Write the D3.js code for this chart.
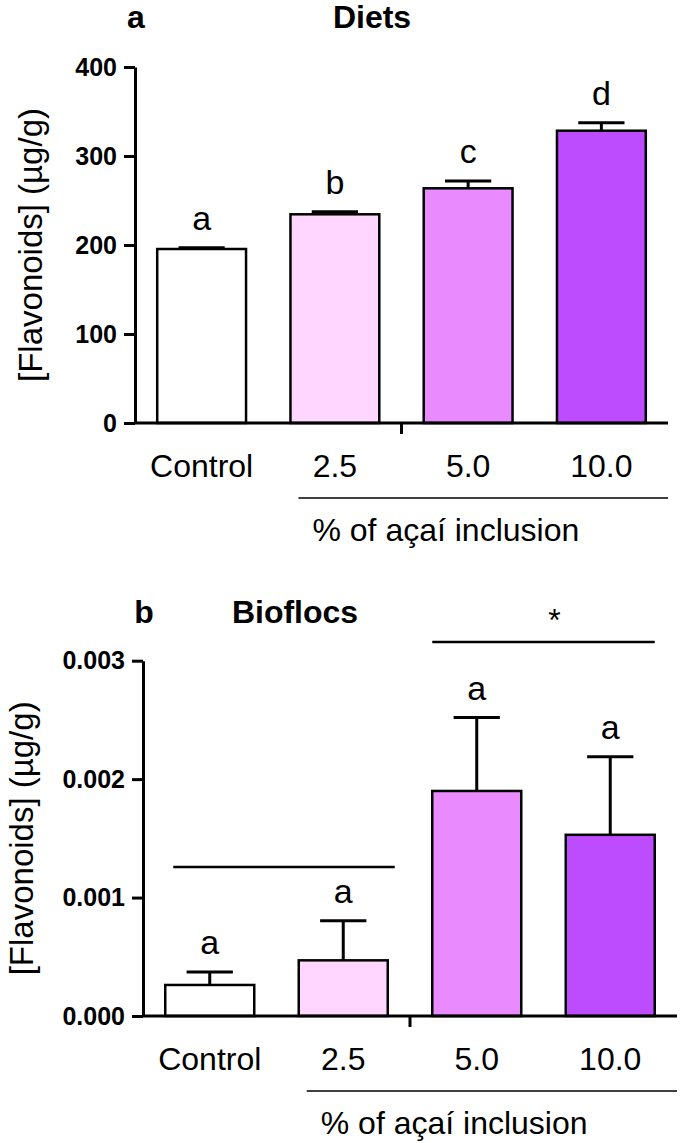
<!DOCTYPE html>
<html>
<head>
<meta charset="utf-8">
<script src="https://cdn.jsdelivr.net/npm/d3@7"></script>
<style>
  body { margin: 0; background: #fff; }
  text { font-family: "Liberation Sans", Arial, sans-serif; fill: #000; }
  .tick-lbl { font-weight: bold; font-size: 25px; }
  .title { font-weight: bold; font-size: 32px; }
</style>
</head>
<body>
<div id="vis"></div>
<script>
// data
const groups = ["Control", "2.5", "5.0", "10.0"];
const bar_colors = ["#ffffff", "#ffd6ff", "#e98bfe", "#bd4cfe"];

const diets_mean = [195.5, 234.5, 263.7, 328.4];
const diets_err = [1.5, 3, 8.3, 9];
const diets_letters = ["a", "b", "c", "d"];
const diets_ticks = [0, 100, 200, 300, 400];

const bioflocs_mean = [0.000262, 0.00047, 0.0019, 0.00153];
const bioflocs_err = [0.000109, 0.000334, 0.00062, 0.00066];
const bioflocs_letters = ["a", "a", "a", "a"];
const bioflocs_ticks = [0, 0.001, 0.002, 0.003];

const group_label = "% of açaí inclusion";
const y_label = "[Flavonoids] (µg/g)";

const frame_width = 685;
const frame_height = 1143;

const svg = d3.select("#vis")
    .append("svg")
        .attr("width", frame_width)
        .attr("height", frame_height);

function drawPanel(p) {
    const g = svg.append("g");

    const X_SCALE = d3.scaleBand()
        .domain(groups)
        .range([p.left, p.right])
        .paddingInner(1/3)
        .paddingOuter(1/6);

    const Y_SCALE = d3.scaleLinear()
        .domain([0, p.ticks[p.ticks.length - 1]])
        .range([p.bottom, p.top]);

    const rows = groups.map((k, i) => ({key: k, mean: p.mean[i], err: p.err[i], letter: p.letters[i], color: bar_colors[i]}));
    const bw = X_SCALE.bandwidth();
    const cx = (d) => X_SCALE(d.key) + bw / 2;

    // bars
    g.selectAll("rect.bar")
        .data(rows)
        .enter()
        .append("rect")
            .attr("class", "bar")
            .attr("x", (d) => X_SCALE(d.key))
            .attr("y", (d) => Y_SCALE(d.mean))
            .attr("width", bw)
            .attr("height", (d) => Y_SCALE(0) - Y_SCALE(d.mean))
            .attr("fill", (d) => d.color)
            .attr("stroke", "#000")
            .attr("stroke-width", 2.5);

    // error bars (upper only)
    g.selectAll("line.err")
        .data(rows)
        .enter()
        .append("line")
            .attr("x1", cx).attr("x2", cx)
            .attr("y1", (d) => Y_SCALE(d.mean))
            .attr("y2", (d) => Y_SCALE(d.mean + d.err))
            .attr("stroke", "#000").attr("stroke-width", 3);
    g.selectAll("line.cap")
        .data(rows)
        .enter()
        .append("line")
            .attr("x1", (d) => cx(d) - bw * 0.26).attr("x2", (d) => cx(d) + bw * 0.26)
            .attr("y1", (d) => Y_SCALE(d.mean + d.err))
            .attr("y2", (d) => Y_SCALE(d.mean + d.err))
            .attr("stroke", "#000").attr("stroke-width", 3);

    // letters
    g.selectAll("text.letter")
        .data(rows)
        .enter()
        .append("text")
            .attr("x", cx)
            .attr("y", (d) => Y_SCALE(d.mean + d.err) - 18)
            .attr("text-anchor", "middle")
            .attr("font-size", "34px")
            .text((d) => d.letter);

    // y axis
    const yAxis = g.append("g")
        .attr("transform", "translate(" + p.left + ",0)")
        .call(d3.axisLeft(Y_SCALE).tickValues(p.ticks).tickFormat(p.fmt).tickSize(11).tickSizeOuter(0).tickPadding(7));
    yAxis.select(".domain").attr("stroke-width", 3);
    yAxis.selectAll(".tick line").attr("stroke-width", 3);
    yAxis.selectAll(".tick text").attr("class", "tick-lbl").attr("font-size", null).attr("font-family", null);

    // x axis line + middle tick
    g.append("line")
        .attr("x1", p.left).attr("x2", p.right)
        .attr("y1", p.bottom).attr("y2", p.bottom)
        .attr("stroke", "#000").attr("stroke-width", 3);
    const mid = X_SCALE("5.0") - X_SCALE.step() * X_SCALE.paddingInner() / 2;
    g.append("line")
        .attr("x1", mid).attr("x2", mid)
        .attr("y1", p.bottom).attr("y2", p.bottom + 11)
        .attr("stroke", "#000").attr("stroke-width", 3);

    // x labels
    g.selectAll("text.xl")
        .data(rows)
        .enter()
        .append("text")
            .attr("x", cx)
            .attr("y", p.bottom + 54)
            .attr("text-anchor", "middle")
            .attr("font-size", "32px")
            .text((d) => d.key);

    // group bracket
    const gx = X_SCALE("2.5") + 8;
    g.append("line")
        .attr("x1", gx).attr("x2", p.right)
        .attr("y1", p.bottom + 75).attr("y2", p.bottom + 75)
        .attr("stroke", "#000").attr("stroke-width", 1.5);
    g.append("text")
        .attr("x", gx + 14)
        .attr("y", p.bottom + 118)
        .attr("font-size", "32px")
        .text(group_label);

    // y label
    g.append("text")
        .attr("transform", "translate(" + p.ylabX + "," + ((p.top + p.bottom) / 2) + ") rotate(-90)")
        .attr("text-anchor", "middle")
        .attr("font-size", "33px")
        .text(y_label);

    // panel letter + title
    g.append("text")
        .attr("class", "title")
        .attr("x", p.left + 1).attr("y", p.titleY)
        .attr("text-anchor", "middle")
        .text(p.panel);
    g.append("text")
        .attr("class", "title")
        .attr("x", p.titleX).attr("y", p.titleY)
        .attr("text-anchor", "middle")
        .text(p.title);

    return {X_SCALE, Y_SCALE, g, bw};
}

drawPanel({
    panel: "a", title: "Diets", titleX: 372, titleY: 28,
    left: 135, right: 668, top: 67, bottom: 423,
    mean: diets_mean, err: diets_err, letters: diets_letters,
    ticks: diets_ticks, fmt: d3.format("d"), ylabX: 42
});

const pb = drawPanel({
    panel: "b", title: "Bioflocs", titleX: 295, titleY: 623,
    left: 143, right: 677, top: 660.7, bottom: 1016,
    mean: bioflocs_mean, err: bioflocs_err, letters: bioflocs_letters,
    ticks: bioflocs_ticks, fmt: d3.format(".3f"), ylabX: 33
});

// significance lines in panel b
const xs = pb.X_SCALE;
pb.g.append("line")
    .attr("x1", xs("Control") + 8).attr("x2", xs("2.5") + pb.bw + 7)
    .attr("y1", 867).attr("y2", 867)
    .attr("stroke", "#000").attr("stroke-width", 2.5);
pb.g.append("line")
    .attr("x1", xs("5.0")).attr("x2", xs("10.0") + pb.bw)
    .attr("y1", 642).attr("y2", 642)
    .attr("stroke", "#000").attr("stroke-width", 2.5);
pb.g.append("text")
    .attr("x", (xs("5.0") + xs("10.0") + pb.bw) / 2 + 11)
    .attr("y", 631)
    .attr("text-anchor", "middle")
    .attr("font-size", "32px")
    .text("*");
</script>
</body>
</html>
